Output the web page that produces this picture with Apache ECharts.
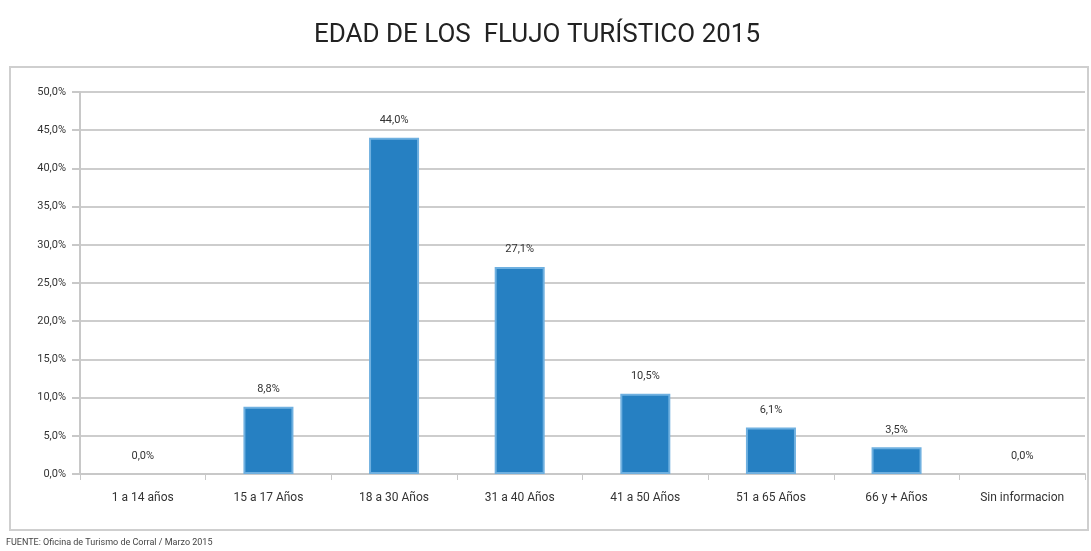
<!DOCTYPE html>
<html>
<head>
<meta charset="utf-8">
<script src="https://cdn.jsdelivr.net/npm/echarts@6/dist/echarts.min.js"></script>
<style>
  html, body { margin: 0; padding: 0; background: #fff; }
  #edad_chart { width: 1091px; height: 551px; }
</style>
</head>
<body>
<div id="edad_chart"></div>
<script>
var categorias = ['1 a 14 años', '15 a 17 Años', '18 a 30 Años', '31 a 40 Años',
    '41 a 50 Años', '51 a 65 Años', '66 y + Años', 'Sin informacion'];
var porcentajes = [0.0, 8.8, 44.0, 27.1, 10.5, 6.1, 3.5, 0.0];

var fuente = 'FUENTE: Oficina de Turismo de Corral / Marzo 2015';
var fontNarrow = '"Liberation Sans Narrow", "Roboto", sans-serif';

function pct(v) {
    return v.toFixed(1).replace('.', ',') + '%';
}

edad_option = {
    backgroundColor: '#fff',
    animation: false,
    title : {
        text: 'EDAD DE LOS  FLUJO TURÍSTICO 2015',
        left: 532,
        textAlign: 'center',
        top: 17,
        textStyle: {
            color: '#222',
            fontSize: 26,
            fontWeight: 'normal',
            fontFamily: fontNarrow
        }
    },
    graphic: [
        {
            type: 'rect',
            shape: { x: 10, y: 67, width: 1078, height: 463 },
            style: { fill: 'none', stroke: '#cfcfcf', lineWidth: 2 },
            z: -1
        },
        {
            type: 'text',
            left: 6,
            top: 538,
            style: {
                text: fuente,
                fill: '#444',
                fontSize: 9,
                fontFamily: fontNarrow
            }
        }
    ],
    grid: { left: 80, right: 6, top: 92, bottom: 77 },
    xAxis: {
        type: 'category',
        data: categorias,
        axisLine: { lineStyle: { color: '#c8c8c8', width: 2 } },
        axisTick: { show: true, length: 6, lineStyle: { color: '#c8c8c8' } },
        axisLabel: {
            color: '#333',
            fontSize: 12,
            margin: 18,
            fontFamily: fontNarrow
        }
    },
    yAxis: {
        type: 'value',
        min: 0,
        max: 50,
        interval: 5,
        axisLine: { show: true, lineStyle: { color: '#c8c8c8', width: 2 } },
        axisTick: { show: true, length: 8, lineStyle: { color: '#c8c8c8', width: 2 } },
        splitLine: { lineStyle: { color: '#cdcdcd', width: 2 } },
        axisLabel: {
            color: '#333',
            fontSize: 11,
            margin: 14,
            fontFamily: fontNarrow,
            formatter: function (v) { return pct(v); }
        }
    },
    series : [
        {
            name: 'Edad',
            type: 'bar',
            barWidth: 50,
            // sin borde en las barras de 0%
            data: porcentajes.map(function (v) {
                return v === 0 ? { value: v, itemStyle: { borderWidth: 0 } } : v;
            }),
            itemStyle: {
                color: '#2680c2',
                borderColor: '#6fb0e0',
                borderWidth: 2
            },
            label: {
                show: true,
                position: 'top',
                distance: 12,
                color: '#333',
                fontSize: 11,
                fontFamily: fontNarrow,
                formatter: function (p) { return pct(p.value); }
            }
        }
    ]
};

var edad_chart = echarts.init(document.getElementById('edad_chart'));
edad_chart.setOption(edad_option)
</script>
</body>
</html>
